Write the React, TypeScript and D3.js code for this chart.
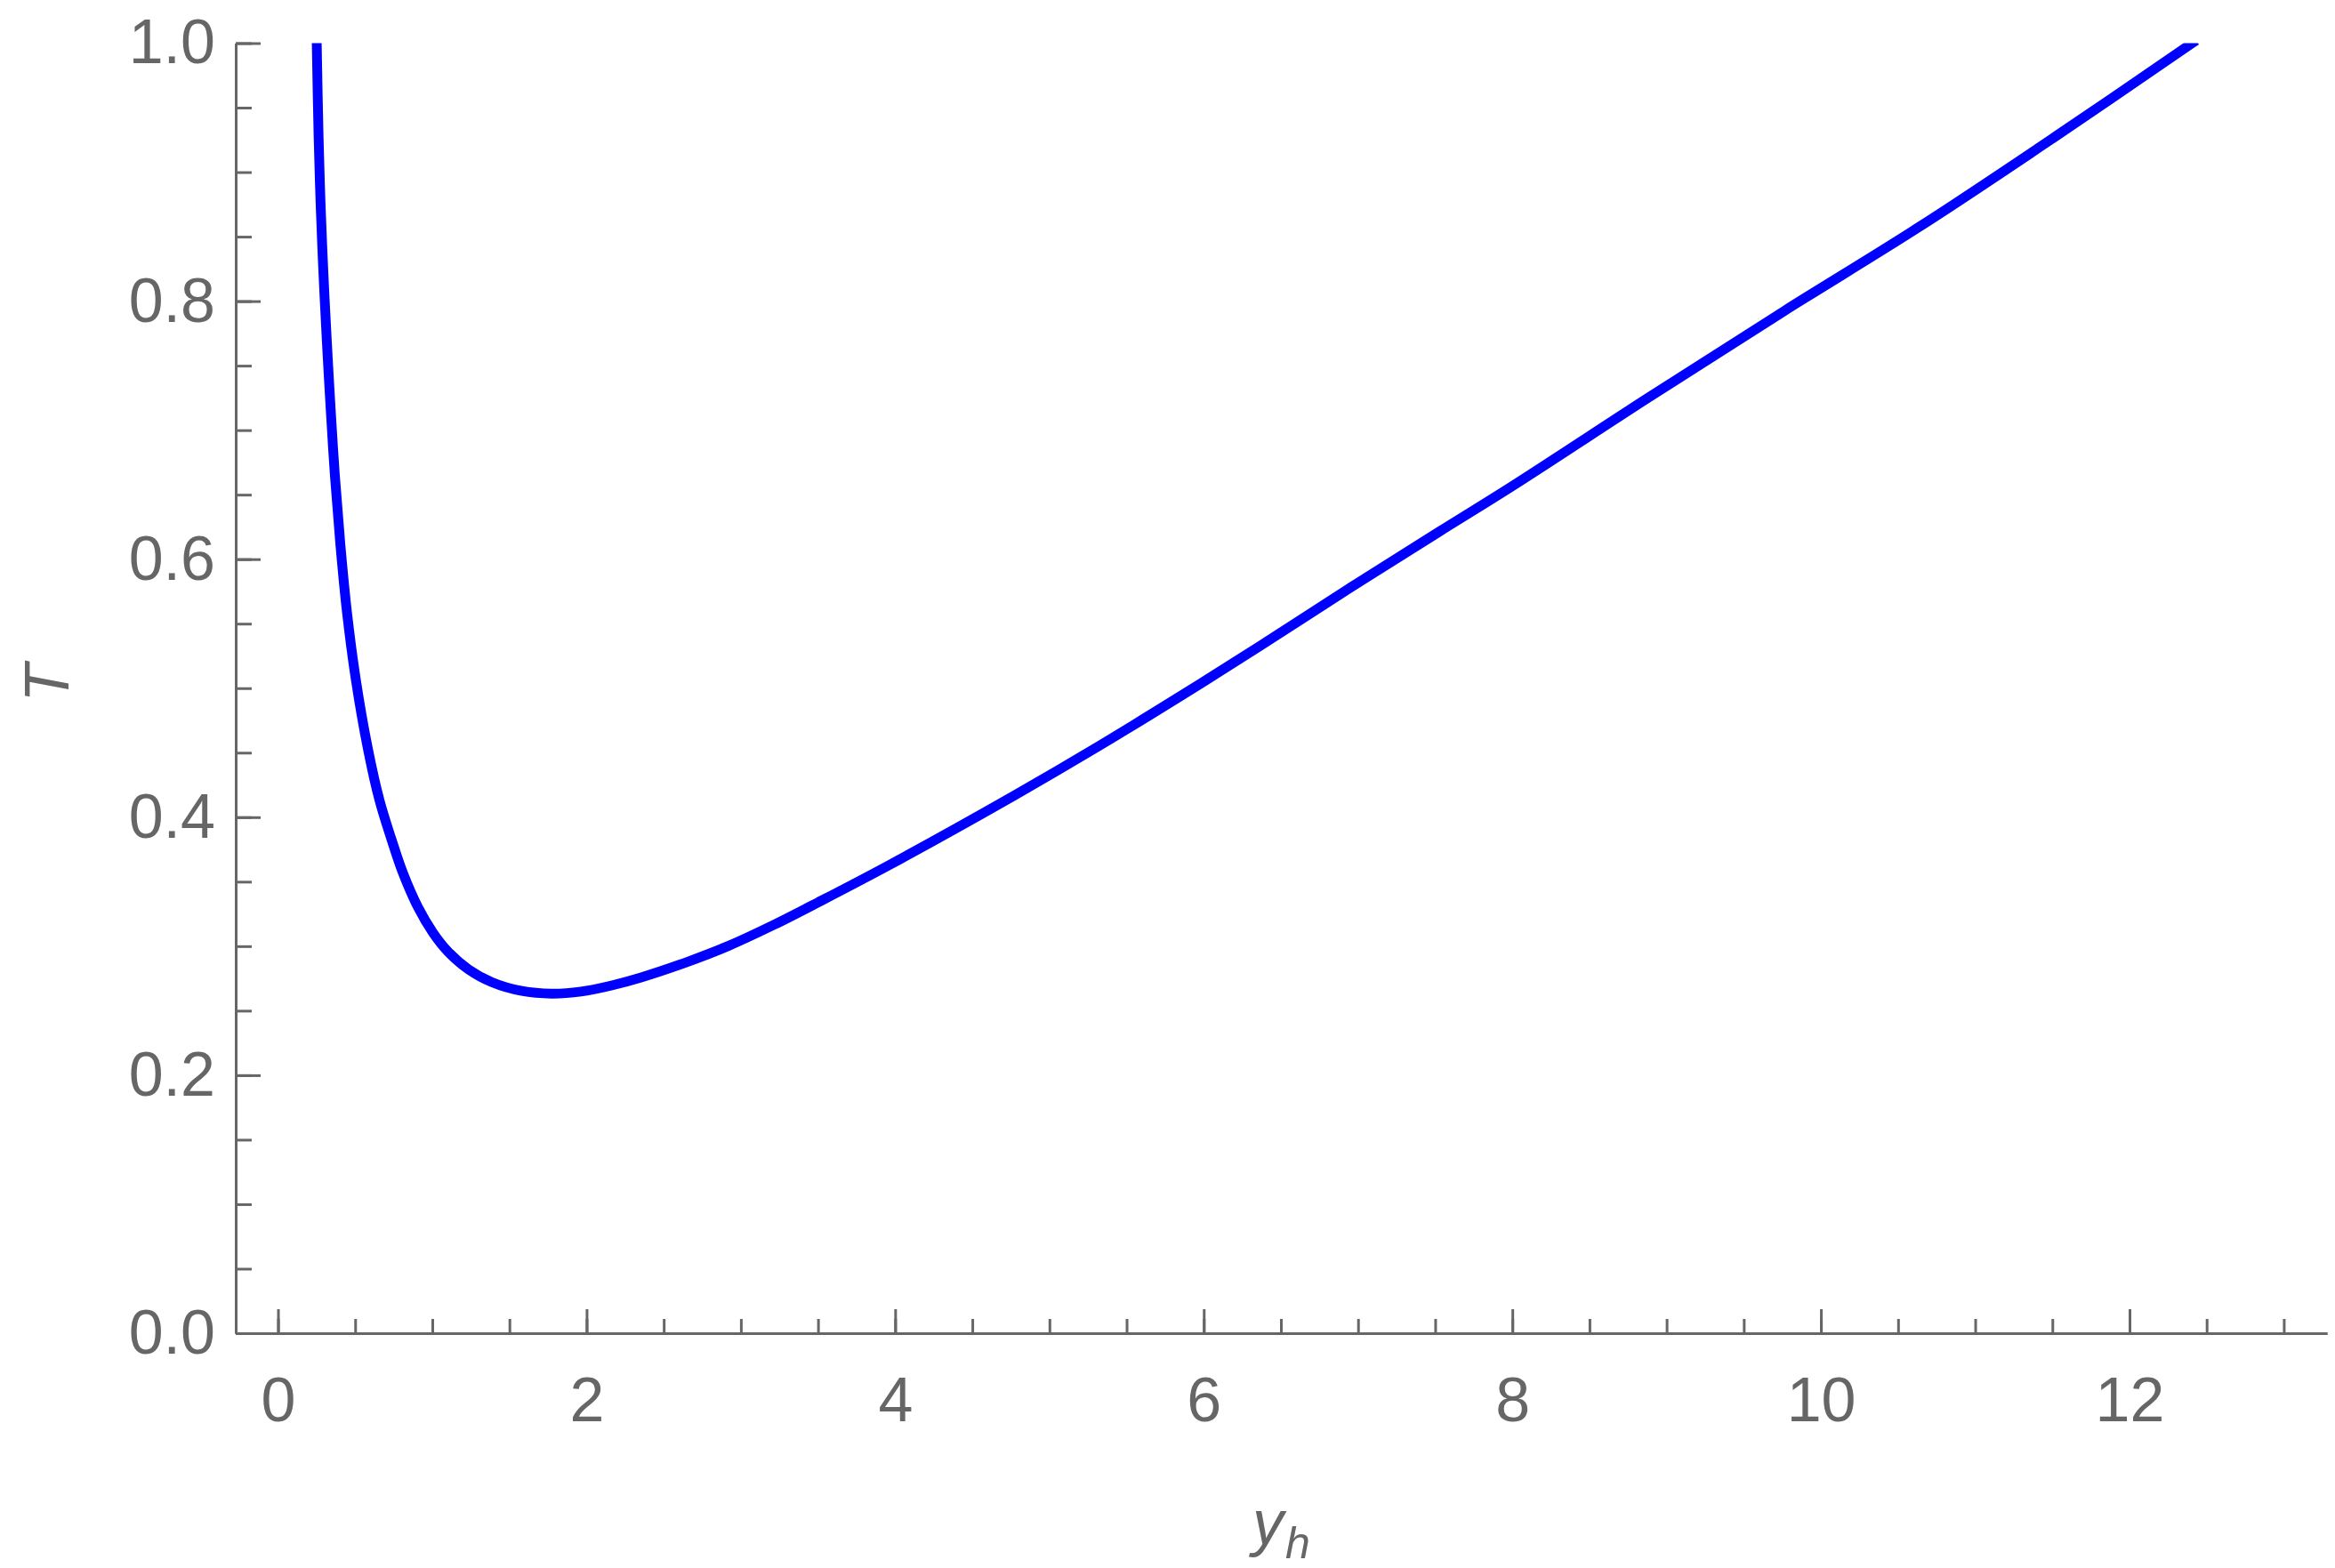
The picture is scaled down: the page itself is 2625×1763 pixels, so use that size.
import React, { useRef, useEffect } from "react";
import * as d3 from "d3";

const width = 2625;
const height = 1763;

// horizon radius y_h vs temperature T
const yh = [
  0.251, 0.263, 0.276, 0.294, 0.316, 0.341, 0.369, 0.404, 0.447, 0.505, 0.582,
  0.658, 0.735, 0.812, 0.908, 1.004, 1.1, 1.235, 1.388, 1.58, 1.772, 1.964,
  2.157, 2.349, 2.637, 2.925, 3.213, 3.501, 3.963, 4.769, 5.327, 5.846, 6.364,
  6.96, 7.522, 7.997, 8.879, 9.761, 10.643, 11.525, 12.406,
];
const temp = [
  1.0, 0.928, 0.8755, 0.8227, 0.77, 0.717, 0.6644, 0.6117, 0.5589, 0.5062,
  0.4534, 0.413, 0.383, 0.356, 0.33, 0.3105, 0.296, 0.282, 0.272, 0.2653,
  0.2632, 0.2648, 0.2694, 0.2756, 0.2871, 0.3005, 0.3165, 0.334, 0.363,
  0.4166, 0.4556, 0.4936, 0.5326, 0.5786, 0.621, 0.6564, 0.725, 0.7923, 0.858,
  0.928, 1.0,
];

const xMajor = [0, 2, 4, 6, 8, 10, 12];
const xMinor = d3.range(0, 13.01, 0.5);
const yMajor = [0, 0.2, 0.4, 0.6, 0.8, 1.0];
const yMinor = d3.range(0, 1.001, 0.05);

const gray = "#666666";
const font = "Liberation Sans, Arial, sans-serif";

function App() {
  const svgRef = useRef(null);

  useEffect(() => {
    const svg = d3.select(svgRef.current);
    svg.selectAll("*").remove();

    const x = d3.scaleLinear().domain([-0.274, 13.28]).range([265, 2616]);
    const y = d3.scaleLinear().domain([0, 1]).range([1499, 48.5]);

    svg
      .append("defs")
      .append("clipPath")
      .attr("id", "plotclip")
      .append("rect")
      .attr("x", 265)
      .attr("y", y(1))
      .attr("width", 2616 - 265)
      .attr("height", y(0) - y(1) + 20);

    const style = (g) => {
      g.select(".domain").attr("stroke", gray).attr("stroke-width", 3);
      g.selectAll(".tick line").attr("stroke", gray).attr("stroke-width", 3);
      g.selectAll(".tick text")
        .attr("fill", gray)
        .attr("font-size", 70)
        .attr("font-family", font);
    };

    // x axis
    svg
      .append("g")
      .attr("transform", `translate(0,${y(0)})`)
      .call(d3.axisBottom(x).tickValues(xMinor).tickSizeInner(-16).tickSizeOuter(0).tickFormat(() => ""))
      .call(style);
    svg
      .append("g")
      .attr("transform", `translate(0,${y(0)})`)
      .call(d3.axisBottom(x).tickValues(xMajor).tickSizeInner(-27).tickSizeOuter(0).tickPadding(49).tickFormat(d3.format("d")))
      .call(style);

    // y axis
    svg
      .append("g")
      .attr("transform", `translate(${x.range()[0]},0)`)
      .call(d3.axisLeft(y).tickValues(yMinor).tickSizeInner(-18).tickSizeOuter(0).tickFormat(() => ""))
      .call(style);
    svg
      .append("g")
      .attr("transform", `translate(${x.range()[0]},0)`)
      .call(d3.axisLeft(y).tickValues(yMajor).tickSizeInner(-28).tickSizeOuter(0).tickPadding(23).tickFormat(d3.format(".1f")))
      .call(style);

    // curve
    const pts = yh.map((v, i) => [v, temp[i]]);
    const line = d3
      .line()
      .x((d) => x(d[0]))
      .y((d) => y(d[1]))
      .curve(d3.curveCatmullRom.alpha(0.5));

    svg
      .append("path")
      .datum(pts)
      .attr("clip-path", "url(#plotclip)")
      .attr("d", line)
      .attr("fill", "none")
      .attr("stroke", "#0000ff")
      .attr("stroke-width", 11)
      .attr("stroke-linecap", "square")
      .attr("stroke-linejoin", "round");

    // axis labels
    svg
      .append("text")
      .attr("transform", "translate(77,768) rotate(-90)")
      .attr("text-anchor", "middle")
      .attr("font-size", 70)
      .attr("font-style", "italic")
      .attr("font-family", font)
      .attr("fill", gray)
      .text("T");

    const xl = svg
      .append("text")
      .attr("x", 1408)
      .attr("y", 1736)
      .attr("font-size", 70)
      .attr("font-style", "italic")
      .attr("font-family", font)
      .attr("fill", gray);
    xl.append("tspan").text("y");
    xl.append("tspan").attr("font-size", 50).attr("dy", 16).attr("dx", 2).text("h");
  }, []);

  return (
    <svg
      ref={svgRef}
      width={width}
      height={height}
      style={{ position: "absolute", left: 0, top: 0, background: "#fff" }}
    />
  );
}

export default App;
